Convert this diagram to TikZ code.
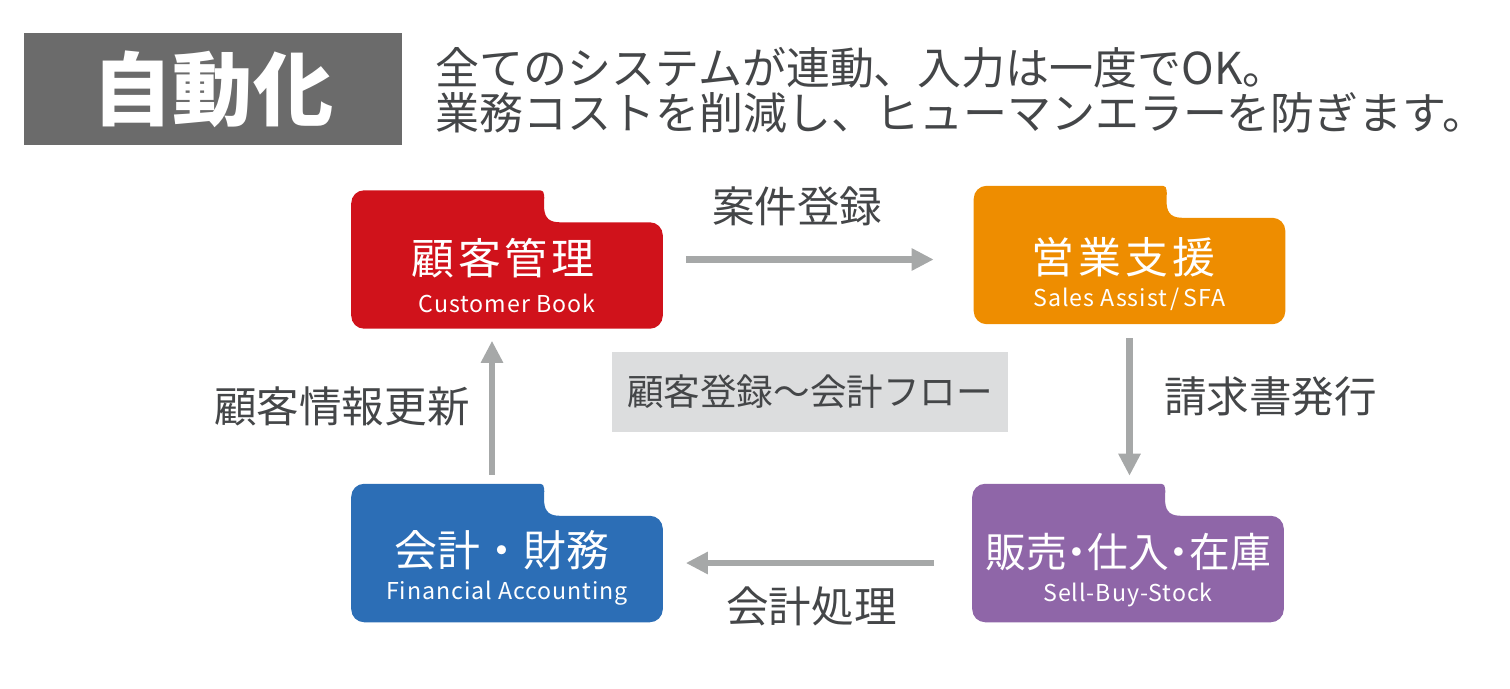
\documentclass[tikz,border=0pt]{standalone}
\usepackage{fontspec}
\setmainfont{Noto Sans CJK JP}
\usepackage{tikz}
\usetikzlibrary{positioning,arrows.meta,calc}
\definecolor{hdr}{HTML}{6B6B6B}
\definecolor{ink}{HTML}{444648}
\definecolor{flow}{HTML}{A6A8A8}
\definecolor{pane}{HTML}{DCDDDE}
\definecolor{crmred}{HTML}{D0121B}
\definecolor{sfaorange}{HTML}{EE8D00}
\definecolor{finblue}{HTML}{2C6EB6}
\definecolor{stockpurple}{HTML}{8F66A8}
\newcommand\spaced[1]{{\addfontfeature{LetterSpace=9}#1}}
\tikzset{
  slot/.style={rectangle,minimum width=3.1cm,minimum height=1.37cm,inner sep=0pt},
  ttl/.style={text=white,inner sep=0pt,font=\fontsize{12.2}{14}\selectfont},
  sub/.style={text=white,inner sep=0pt,font=\fontsize{6.6}{8}\selectfont\addfontfeature{LetterSpace=4}},
  lbl/.style={text=ink,inner sep=0pt,font=\fontsize{12.1}{14}\selectfont},
  fl/.style={-{Triangle[width=0.21cm,length=0.22cm]},draw=flow,line width=0.065cm},
}

\begin{document}
\begin{tikzpicture}[x=0.01cm,y=-0.01cm]
  \useasboundingbox (0,0) rectangle (1510,688);
  % heading
  \node[fill=hdr,minimum width=3.78cm,minimum height=1.12cm,inner sep=0pt,
    text=white,font=\fontsize{22.8}{26}\selectfont\bfseries] (head) at (213,89) {自動化};
  \node[anchor=west,text=ink,inner sep=0pt,align=left,
    font=\fontsize{12.5}{12.8}\selectfont] (lead) at (435,90)
    {全てのシステムが連動、入力は一度でOK。\\業務コストを削減し、ヒューマンエラーを防ぎます。};
  % folders
  \node[slot] (crm) at (507,259.5) {};
  \node[slot] (sfa) at (1129.5,255) {};
  \node[slot] (fin) at (507,553) {};
  \node[slot] (stock) at (1128,553) {};
  \foreach \n/\c in {crm/crmred,sfa/sfaorange,fin/finblue,stock/stockpurple}
    \fill[\c,rounded corners=0.13cm] (\n.south west) -- (\n.north west)
      -- ($(\n.north west)+(176,0)$) [sharp corners]
      .. controls ($(\n.north west)+(200,0)$) and ($(\n.north west)+(182,32)$) .. ($(\n.north west)+(208,32)$)
      [rounded corners=0.13cm] -- ($(\n.north east)+(0,32)$) -- (\n.south east) -- cycle;
  \node[ttl] at ([xshift=-0.04cm,yshift=0.01cm]crm.center) {\spaced{顧客管理}};
  \node[sub] at ([yshift=-0.435cm]crm.center) {Customer Book};
  \node[ttl] at ([xshift=-0.06cm,yshift=-0.02cm]sfa.center) {\spaced{営業支援}};
  \node[sub] at ([yshift=-0.44cm]sfa.center) {Sales Assist\,/\,SFA};
  \node[ttl] at ([xshift=-0.05cm,yshift=0.03cm]fin.center) {会計・財務};
  \node[sub] at ([yshift=-0.4cm]fin.center) {Financial Accounting};
  \node[ttl,font=\fontsize{11.6}{14}\selectfont] at ([yshift=0.01cm]stock.center)
    {\addfontfeature{RawFeature=+palt}販売・仕入・在庫};
  \node[sub] at ([yshift=-0.42cm]stock.center) {Sell-Buy-Stock};
  % centre caption
  \node[fill=pane,minimum width=3.96cm,minimum height=0.8cm,inner sep=0pt,
    text=ink,font=\fontsize{10.4}{12}\selectfont] (cap) at (810,392) {顧客登録〜会計フロー};
  % flow
  \draw[fl,shorten <=0.23cm,shorten >=0.4cm] (crm.east) -- (crm.east -| sfa.west)
    node[lbl,midway,yshift=0.53cm,xshift=-0.21cm] {案件登録};
  \draw[fl,shorten <=0.14cm,shorten >=0.08cm] (sfa.south) -- (sfa.south |- stock.north)
    node[lbl,midway,xshift=1.41cm,yshift=0.08cm] {請求書発行};
  \draw[fl,shorten <=0.38cm,shorten >=0.23cm] ([yshift=-0.1cm]stock.west) -- ([yshift=-0.1cm]fin.east)
    node[lbl,midway,yshift=-0.43cm,xshift=-0.06cm] {会計処理};
  \draw[fl,shorten <=0.09cm,shorten >=0.12cm] ([xshift=-0.15cm]fin.north) -- ([xshift=-0.15cm]crm.south)
    node[lbl,midway,xshift=-1.5cm] {顧客情報更新};
\end{tikzpicture}
\end{document}
